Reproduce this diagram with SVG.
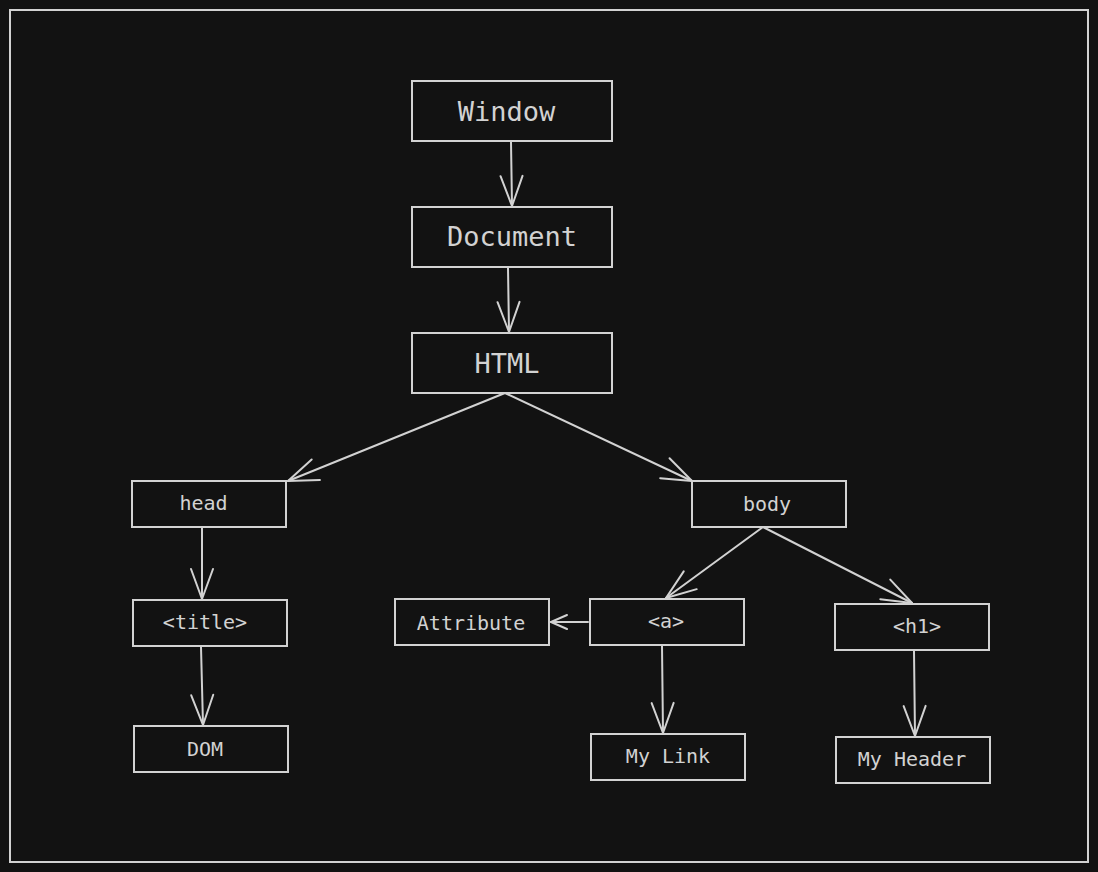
<svg xmlns="http://www.w3.org/2000/svg" width="1098" height="872" viewBox="0 0 1098 872">
<style>
.node rect{fill:none;stroke:#d2d2d2;stroke-width:2}
text{font-family:"DejaVu Sans Mono","Liberation Mono",monospace;fill:#d2d2d2;text-anchor:middle}
.big{font-size:27px}
.sm{font-size:20px}
.edges path{fill:none;stroke:#d2d2d2;stroke-width:2;stroke-linecap:round}
.ah{fill:none;stroke:#d2d2d2;stroke-width:2;stroke-linecap:round;stroke-linejoin:round}
</style>
<defs>
<marker id="arr" viewBox="-2 -13 34 26" refX="30" refY="0" markerWidth="34" markerHeight="26" markerUnits="userSpaceOnUse" orient="auto">
<path class="ah" d="M0,-11 L30,0 L0,11"/>
</marker>
<marker id="arrs" viewBox="-2 -9 20 18" refX="16" refY="0" markerWidth="20" markerHeight="18" markerUnits="userSpaceOnUse" orient="auto">
<path class="ah" d="M0,-7 L16,0 L0,7"/>
</marker>
</defs>
<rect x="0" y="0" width="1098" height="872" fill="#121212"/>
<rect x="10" y="10" width="1078" height="852" fill="none" stroke="#d2d2d2" stroke-width="2"/>
<g class="edges">
<path d="M511,142 L512,206" marker-end="url(#arr)"/>
<path d="M508,268 L509,332" marker-end="url(#arr)"/>
<path d="M505,393 L288,481" marker-end="url(#arr)"/>
<path d="M505,393 L692,481" marker-end="url(#arr)"/>
<path d="M202,527 L202,599" marker-end="url(#arr)"/>
<path d="M201,647 L203,725" marker-end="url(#arr)"/>
<path d="M763,527 L666,598" marker-end="url(#arr)"/>
<path d="M763,527 L912,603" marker-end="url(#arr)"/>
<path d="M588,622 L551,622" marker-end="url(#arrs)"/>
<path d="M662,646 L663,733" marker-end="url(#arr)"/>
<path d="M914,651 L915,736" marker-end="url(#arr)"/>
</g>
<g id="window" class="node"><rect x="412" y="81" width="200" height="60"/><text class="big" x="506.5" y="121">Window</text></g>
<g id="document" class="node"><rect x="412" y="207" width="200" height="60"/><text class="big" x="512" y="246">Document</text></g>
<g id="html" class="node"><rect x="412" y="333" width="200" height="60"/><text class="big" x="507" y="373">HTML</text></g>
<g id="head" class="node"><rect x="132" y="481" width="154" height="46"/><text class="sm" x="203.5" y="510">head</text></g>
<g id="body" class="node"><rect x="692" y="481" width="154" height="46"/><text class="sm" x="767" y="511">body</text></g>
<g id="title" class="node"><rect x="133" y="600" width="154" height="46"/><text class="sm" x="205" y="629">&lt;title&gt;</text></g>
<g id="dom" class="node"><rect x="134" y="726" width="154" height="46"/><text class="sm" x="205" y="756">DOM</text></g>
<g id="attribute" class="node"><rect x="395" y="599" width="154" height="46"/><text class="sm" x="471" y="630">Attribute</text></g>
<g id="a" class="node"><rect x="590" y="599" width="154" height="46"/><text class="sm" x="666" y="628">&lt;a&gt;</text></g>
<g id="h1" class="node"><rect x="835" y="604" width="154" height="46"/><text class="sm" x="917" y="633">&lt;h1&gt;</text></g>
<g id="mylink" class="node"><rect x="591" y="734" width="154" height="46"/><text class="sm" x="668" y="763">My Link</text></g>
<g id="myheader" class="node"><rect x="836" y="737" width="154" height="46"/><text class="sm" x="912" y="766">My Header</text></g>
</svg>
